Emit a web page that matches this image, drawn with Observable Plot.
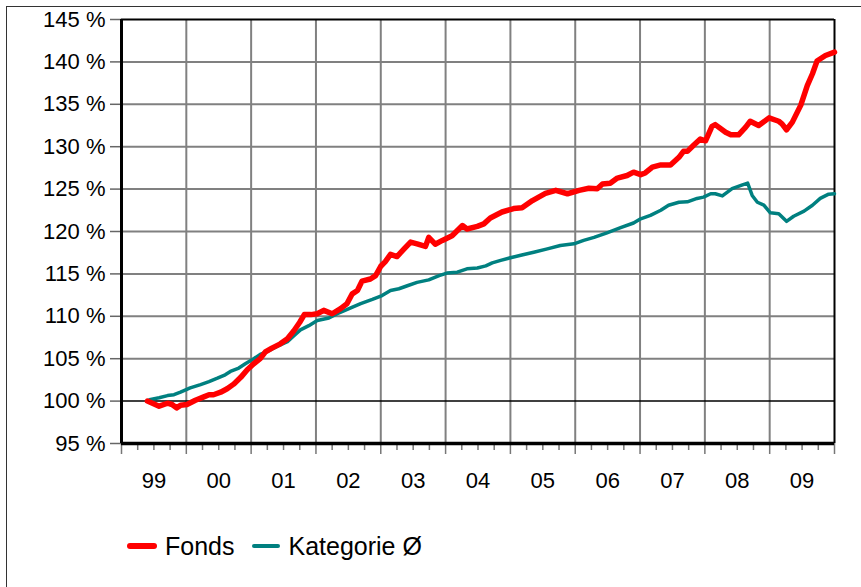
<!DOCTYPE html>
<html>
<head>
<meta charset="utf-8">
<script src="https://cdn.jsdelivr.net/npm/d3@7"></script>
<script src="https://cdn.jsdelivr.net/npm/@observablehq/plot@0.6"></script>
<style>
  html, body { margin: 0; padding: 0; background: #fff; overflow: hidden; width: 861px; height: 587px; }
  #frame { position: absolute; left: 6px; top: 6px; width: 900px; height: 700px; border-left: 1px solid #333; border-top: 1px solid #333; }
  #chart { position: absolute; left: 0; top: 0; }
  #legend { position: absolute; left: 127px; top: 531px; height: 30px; display: flex; align-items: center;
            font-family: "Liberation Sans", Arial, sans-serif; font-size: 25px; color: #000; }
  .sw { display: inline-block; width: 30px; border-radius: 3px; margin-right: 8px; }
  .item { display: flex; align-items: center; margin-right: 18px; }
</style>
</head>
<body>
<div id="frame"></div>
<div id="chart"></div>
<div id="legend"></div>
<script>
// Series names and colours
const seriesNames = ["Fonds", "Kategorie Ø"];
const seriesColors = ["#ff0000", "#008080"];

// Fonds (x = decimal year, y = % of start value)
const fondsX = [1999.40,1999.58,1999.71,1999.78,1999.85,1999.91,2000.01,2000.14,2000.27,2000.35,2000.42,2000.53,2000.63,2000.73,2000.84,2000.94,
  2001.04,2001.14,2001.22,2001.32,2001.45,2001.56,2001.66,2001.75,2001.82,2001.92,2002.02,2002.12,2002.25,2002.38,2002.48,2002.56,2002.64,2002.71,2002.84,2002.92,
  2003.00,2003.07,2003.15,2003.25,2003.36,2003.46,2003.56,2003.69,2003.74,2003.84,2003.95,2004.10,2004.26,2004.33,2004.49,2004.59,2004.69,2004.87,
  2005.05,2005.18,2005.34,2005.54,2005.70,2005.88,2006.06,2006.21,2006.34,2006.42,2006.54,2006.65,2006.80,2006.90,2007.01,2007.08,2007.19,2007.32,2007.47,
  2007.60,2007.67,2007.73,2007.83,2007.93,2008.01,2008.11,2008.16,2008.32,2008.40,2008.52,2008.63,2008.70,2008.83,2008.99,2009.14,2009.19,2009.26,2009.35,
  2009.48,2009.58,2009.66,2009.73,2009.86,2010.00];
const fondsY = [100.0,99.4,99.75,99.6,99.2,99.5,99.6,100.1,100.5,100.75,100.75,101.05,101.45,102.0,102.8,103.7,
  104.4,105.0,105.8,106.25,106.75,107.35,108.3,109.3,110.2,110.2,110.3,110.7,110.3,110.9,111.5,112.65,113.05,114.15,114.4,114.8,
  115.9,116.45,117.3,117.05,117.95,118.75,118.55,118.25,119.3,118.5,118.95,119.5,120.7,120.3,120.6,120.9,121.6,122.3,
  122.7,122.8,123.65,124.5,124.85,124.45,124.85,125.1,125.05,125.6,125.7,126.3,126.6,127.0,126.7,126.9,127.6,127.85,127.85,
  128.75,129.45,129.45,130.2,130.9,130.7,132.4,132.6,131.7,131.4,131.4,132.3,133.0,132.5,133.4,133.0,132.7,132.0,132.9,
  134.9,137.2,138.6,140.1,140.75,141.15];

// Kategorie Ø
const katX = [1999.40,1999.45,1999.58,1999.71,1999.81,1999.91,2000.06,2000.22,2000.35,2000.48,2000.60,2000.68,2000.81,2000.91,
  2001.04,2001.14,2001.25,2001.40,2001.56,2001.66,2001.76,2001.89,2002.02,2002.20,2002.33,2002.51,2002.69,2002.87,
  2003.02,2003.15,2003.28,2003.41,2003.56,2003.74,2003.90,2004.02,2004.18,2004.33,2004.49,2004.62,2004.72,2004.85,
  2005.00,2005.16,2005.36,2005.57,2005.77,2005.98,2006.13,2006.29,2006.49,2006.70,2006.90,2007.01,2007.16,2007.32,2007.44,
  2007.60,2007.73,2007.88,2007.98,2008.09,2008.16,2008.27,2008.42,2008.58,2008.66,2008.73,2008.81,2008.91,
  2009.01,2009.14,2009.26,2009.37,2009.53,2009.66,2009.78,2009.91,2010.00];
const katY = [100.0,100.2,100.4,100.65,100.75,101.05,101.55,101.95,102.3,102.7,103.1,103.5,103.9,104.4,
  105.0,105.5,105.85,106.45,107.0,107.7,108.4,108.9,109.5,109.8,110.3,110.9,111.5,112.0,
  112.45,113.05,113.25,113.6,114.0,114.3,114.8,115.1,115.2,115.6,115.7,115.95,116.3,116.6,
  116.9,117.2,117.55,117.95,118.35,118.55,118.95,119.3,119.85,120.45,121.0,121.5,121.9,122.5,123.1,
  123.45,123.5,123.9,124.05,124.45,124.45,124.2,125.05,125.5,125.7,124.25,123.45,123.1,
  122.2,122.1,121.2,121.8,122.4,123.1,123.9,124.4,124.45];

// Axis ticks
const yTicks = [95,100,105,110,115,120,125,130,135,140,145];
const yearLabels = ["99","00","01","02","03","04","05","06","07","08","09"];
const yearStarts = d3.range(1999, 2011);          // 1999 … 2010
const yearMids = yearStarts.slice(0, -1).map(y => y + 0.5);
const quarters = d3.range(1999, 2010, 0.25).filter(q => q % 1 !== 0);

const fonds = fondsX.map((x, i) => ({x, y: fondsY[i]}));
const kat = katX.map((x, i) => ({x, y: katY[i]}));

const chart = Plot.plot({
  width: 861,
  height: 500,
  marginLeft: 121,
  marginRight: 27,
  marginTop: 19,
  marginBottom: 57,
  style: {fontFamily: "'Liberation Sans', Arial, sans-serif", background: "transparent", color: "#000"},
  x: {domain: [1999, 2010], label: null},
  y: {domain: [95, 145], label: null},
  marks: [
    Plot.ruleX(yearStarts.slice(1, -1), {stroke: "#808080", strokeWidth: 2}),
    Plot.ruleY(yTicks.filter(t => t > 100 && t < 145), {stroke: "#808080", strokeWidth: 2}),
    Plot.ruleY([100], {stroke: "#000", strokeWidth: 1.5}),
    Plot.ruleY([145], {stroke: "#000", strokeWidth: 2}),
    Plot.ruleX([2010], {stroke: "#000", strokeWidth: 2}),
    Plot.axisX({ticks: quarters, tickSize: 7, stroke: "#777", strokeWidth: 1.5, text: null, label: null}),
    Plot.axisX({ticks: yearStarts, tickSize: 11, stroke: "#777", strokeWidth: 1.5, text: null, label: null}),
    Plot.axisX({ticks: yearMids, tickSize: 0, tickPadding: 29, fontSize: 22, label: null,
                tickFormat: d => yearLabels[Math.floor(d) - 1999]}),
    Plot.axisY({ticks: yTicks, tickSize: 11, tickPadding: 5, fontSize: 22, stroke: "#666", strokeWidth: 1.5, label: null,
                tickFormat: d => `${d} %`}),
    Plot.ruleX([1999], {stroke: "#000", strokeWidth: 3}),
    Plot.ruleY([95], {stroke: "#000", strokeWidth: 3.5}),
    Plot.line(kat, {x: "x", y: "y", stroke: seriesColors[1], strokeWidth: 3.5, strokeLinejoin: "round", strokeLinecap: "round"}),
    Plot.line(fonds, {x: "x", y: "y", stroke: seriesColors[0], strokeWidth: 5.5, strokeLinejoin: "round", strokeLinecap: "round"})
  ]
});
document.getElementById("chart").appendChild(chart);

const legend = document.getElementById("legend");
seriesNames.forEach((name, i) => {
  const item = document.createElement("span");
  item.className = "item";
  const sw = document.createElement("span");
  sw.className = "sw";
  sw.style.background = seriesColors[i];
  sw.style.height = i === 0 ? "6px" : "4px";
  sw.style.width = i === 0 ? "30px" : "28px";
  item.appendChild(sw);
  item.appendChild(document.createTextNode(name));
  legend.appendChild(item);
});
</script>
</body>
</html>
